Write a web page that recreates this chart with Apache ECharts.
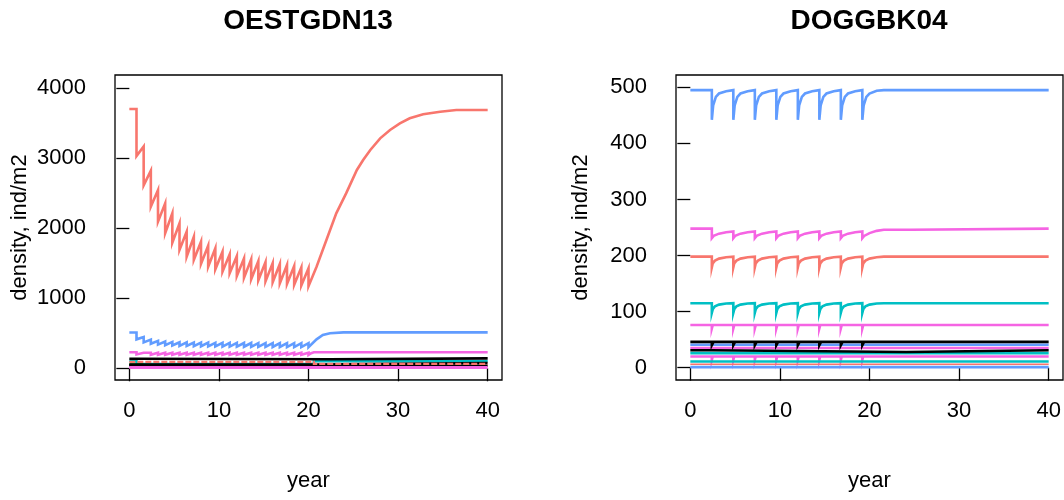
<!DOCTYPE html>
<html>
<head>
<meta charset="utf-8">
<script src="https://cdn.jsdelivr.net/npm/echarts@6/dist/echarts.min.js"></script>
<style>
  html, body { margin: 0; padding: 0; background: #ffffff; }
  #chart { width: 1064px; height: 500px; }
</style>
</head>
<body>
<div id="chart"></div>
<script>
// Panel titles and axis ticks
const panelTitles = ['OESTGDN13', 'DOGGBK04'];
const yearTicks = [0, 10, 20, 30, 40];
const oestTicks = [0, 1000, 2000, 3000, 4000];
const doggTicks = [0, 100, 200, 300, 400, 500];

// OESTGDN13: density (ind/m2) by year, one array per species line
const oestRed = [
  [0,3700],[0.8,3700],[0.8,3028],[1.6,3165],[1.6,2610],[2.4,2820],[2.4,2305],[3.2,2543],[3.2,2091],
  [4.0,2353],[4.0,1926],[4.8,2211],[4.8,1792],[5.6,2068],[5.6,1688],[6.4,1949],[6.4,1592],[7.2,1877],
  [7.2,1545],[8.0,1806],[8.0,1488],[8.8,1749],[8.8,1449],[9.6,1712],[9.6,1412],[10.4,1663],[10.4,1378],
  [11.2,1626],[11.2,1355],[12.0,1602],[12.0,1317],[12.8,1569],[12.8,1290],[13.6,1555],[13.6,1270],
  [14.4,1530],[14.4,1255],[15.2,1515],[15.2,1240],[16.0,1500],[16.0,1227],[16.8,1488],[16.8,1213],
  [17.6,1474],[17.6,1203],[18.4,1459],[18.4,1190],[19.2,1441],[19.2,1180],[20.0,1427],[20.0,1172],
  [20.9,1449],[22.0,1830],[23.1,2211],[24.2,2496],[25.4,2829],[26.1,2971],[26.9,3114],[28.0,3281],
  [29.1,3400],[30.2,3495],[31.3,3566],[32.8,3623],[34.7,3660],[36.5,3685],[40,3685]
];
const oestBlue = [
  [0,510],[0.8,510],[0.8,413],[1.6,446],[1.6,370],[2.4,410],[2.4,350],[3.2,392],[3.2,338],[4.0,382],
  [4.0,330],[4.8,376],[4.8,325],[5.6,372],[5.6,320],[6.4,369],[6.4,318],[7.2,367],[7.2,316],[8.0,366],
  [8.0,314],[8.8,365],[8.8,312],[9.6,364],[9.6,311],[10.4,363],[10.4,310],[11.2,362],[11.2,309],
  [12.0,362],[12.0,308],[12.8,361],[12.8,307],[13.6,361],[13.6,306],[14.4,360],[14.4,305],[15.2,360],
  [15.2,305],[16.0,360],[16.0,304],[16.8,359],[16.8,304],[17.6,359],[17.6,303],[18.4,359],[18.4,303],
  [19.2,358],[19.2,302],[20.0,358],[20.0,302],[20.9,413],[21.6,475],[22.4,499],[23.9,513],[40,513]
];
const oestMagenta = [
  [0,228],[0.8,228],[0.8,198],[1.6,222],[1.6,194],[2.4,222],[2.4,193],[3.2,222],[3.2,192],[4.0,222],
  [4.0,192],[4.8,222],[4.8,192],[5.6,222],[5.6,192],[6.4,222],[6.4,192],[7.2,222],[7.2,192],[8.0,222],
  [8.0,192],[8.8,222],[8.8,192],[9.6,222],[9.6,192],[10.4,222],[10.4,192],[11.2,222],[11.2,192],
  [12.0,222],[12.0,192],[12.8,222],[12.8,192],[13.6,222],[13.6,192],[14.4,222],[14.4,192],[15.2,222],
  [15.2,192],[16.0,222],[16.0,192],[16.8,222],[16.8,192],[17.6,222],[17.6,192],[18.4,222],[18.4,192],
  [19.2,222],[19.2,192],[20.0,222],[20.0,192],[20.3,215],[20.6,228],[40,228]
];
const oestBlackUpper = [[0,137],[0.8,137],[0.8,128],[22.4,128],[22.4,142],[40,142]];
const oestCyan = [[0,105],[0.8,105],[0.8,60],[20.6,60],[20.6,100],[40,100]];
const oestRedDashed = [[0,92],[20.6,92],[20.6,62],[40,62]];
const oestGreen = [[0,55],[1.6,55]];
const oestBlackMiddle = [[0,54],[20.6,54],[20.6,76],[40,76]];
const oestBlackLower = [[0,42],[20.6,42],[20.6,37],[40,37]];
const oestMagentaLow = [[0,12],[40,12]];

// DOGGBK04: density (ind/m2) by year
const doggBlue = [
  [0,495],[2.4,495],[2.4,442],[2.55,468],[2.85,483],[3.2,489],[4.0,493],[4.8,495],
  [4.8,442],[4.95,468],[5.25,483],[5.6,489],[6.4,493],[7.2,495],
  [7.2,442],[7.35,468],[7.65,483],[8.0,489],[8.8,493],[9.6,495],
  [9.6,442],[9.75,468],[10.05,483],[10.4,489],[11.2,493],[12.0,495],
  [12.0,442],[12.15,468],[12.45,483],[12.8,489],[13.6,493],[14.4,495],
  [14.4,442],[14.55,468],[14.85,483],[15.2,489],[16.0,493],[16.8,495],
  [16.8,442],[16.95,468],[17.25,483],[17.6,489],[18.4,493],[19.2,495],
  [19.2,442],[19.35,468],[19.65,483],[20.0,489],[20.8,494],[21.6,495],[40,495]
];
const doggMagentaTop = [
  [0,248],[2.4,248],[2.4,231],[2.6,235],[3.2,239],[4.0,241.5],[4.8,243],
  [4.8,231],[5.0,235],[5.6,239],[6.4,241.5],[7.2,243],
  [7.2,231],[7.4,235],[8.0,239],[8.8,241.5],[9.6,243],
  [9.6,231],[9.8,235],[10.4,239],[11.2,241.5],[12.0,243],
  [12.0,231],[12.2,235],[12.8,239],[13.6,241.5],[14.4,243],
  [14.4,231],[14.6,235],[15.2,239],[16.0,241.5],[16.8,243],
  [16.8,231],[17.0,235],[17.6,239],[18.4,241.5],[19.2,243],
  [19.2,231],[19.4,235],[20.0,240],[20.8,244],[21.6,246],[24.6,246],[24.6,248],[40,248]
];
const doggRed = [
  [0,198],[2.4,198],[2.4,179],[2.5,186],[2.75,191],[3.2,194.5],[4.0,197],[4.8,198],
  [4.8,179],[4.9,186],[5.15,191],[5.6,194.5],[6.4,197],[7.2,198],
  [7.2,179],[7.3,186],[7.55,191],[8.0,194.5],[8.8,197],[9.6,198],
  [9.6,179],[9.7,186],[9.95,191],[10.4,194.5],[11.2,197],[12.0,198],
  [12.0,179],[12.1,186],[12.35,191],[12.8,194.5],[13.6,197],[14.4,198],
  [14.4,179],[14.5,186],[14.75,191],[15.2,194.5],[16.0,197],[16.8,198],
  [16.8,179],[16.9,186],[17.15,191],[17.6,194.5],[18.4,197],[19.2,198],
  [19.2,179],[19.3,186],[19.55,191],[20.0,194.5],[20.8,197],[21.6,198],[40,198]
];
const doggCyan = [
  [0,115],[2.4,115],[2.4,98],[2.5,104],[2.75,109.5],[3.2,112.5],[4.0,114.5],[4.8,115],
  [4.8,98],[4.9,104],[5.15,109.5],[5.6,112.5],[6.4,114.5],[7.2,115],
  [7.2,98],[7.3,104],[7.55,109.5],[8.0,112.5],[8.8,114.5],[9.6,115],
  [9.6,98],[9.7,104],[9.95,109.5],[10.4,112.5],[11.2,114.5],[12.0,115],
  [12.0,98],[12.1,104],[12.35,109.5],[12.8,112.5],[13.6,114.5],[14.4,115],
  [14.4,98],[14.5,104],[14.75,109.5],[15.2,112.5],[16.0,114.5],[16.8,115],
  [16.8,98],[16.9,104],[17.15,109.5],[17.6,112.5],[18.4,114.5],[19.2,115],
  [19.2,98],[19.3,104],[19.55,109.5],[20.0,112.5],[20.8,114.5],[21.6,115],[40,115]
];
const doggMagentaMid = [
  [0,76],[2.4,76],[2.4,70],[2.5,70],[2.5,76],[4.8,76],[4.8,70],[4.9,70],[4.9,76],
  [7.2,76],[7.2,70],[7.3,70],[7.3,76],[9.6,76],[9.6,70],[9.7,70],[9.7,76],
  [12.0,76],[12.0,70],[12.1,70],[12.1,76],[14.4,76],[14.4,70],[14.5,70],[14.5,76],
  [16.8,76],[16.8,70],[16.9,70],[16.9,76],[19.2,76],[19.2,70],[19.3,70],[19.3,76],[40,76]
];
const doggBlueLow = [[0,41],[40,41]];
const doggMagentaLow = [[0,35],[40,35]];
const doggBlack = [
  [0,46],[2.4,46],[2.4,40],[2.6,40],[2.6,46],[4.8,46],[4.8,40],[5.0,40],[5.0,46],
  [7.2,46],[7.2,40],[7.4,40],[7.4,46],[9.6,46],[9.6,40],[9.8,40],[9.8,46],
  [12.0,46],[12.0,40],[12.2,40],[12.2,46],[14.4,46],[14.4,40],[14.6,40],[14.6,46],
  [16.8,46],[16.8,40],[17.0,40],[17.0,46],[19.2,46],[19.2,40],[19.4,40],[19.4,46],[40,46]
];
const doggCyanLow = [[0,26],[40,26]];
const doggBlackLow = [[0,31],[2.4,31],[2.4,28],[24.1,28],[24.1,31],[40,31]];
const doggPinkLow = [
  [0,20],[2.4,20],[2.4,14],[2.5,14],[2.5,20],[4.8,20],[4.8,14],[4.9,14],[4.9,20],
  [7.2,20],[7.2,14],[7.3,14],[7.3,20],[9.6,20],[9.6,14],[9.7,14],[9.7,20],
  [12.0,20],[12.0,14],[12.1,14],[12.1,20],[14.4,20],[14.4,14],[14.5,14],[14.5,20],
  [16.8,20],[16.8,14],[16.9,14],[16.9,20],[19.2,20],[19.2,14],[19.3,14],[19.3,20],[40,20]
];
const doggCyanBottom = [[0,11],[40,11]];
const doggRedBottom = [[0,6],[40,6]];
const doggBlueBottom = [[0,1],[40,1]];

const COLORS = {
  red: '#F8766D', blue: '#619CFF', magenta: '#F564E3',
  cyan: '#00BFC4', black: '#000000', green: '#00BA38'
};
const FONT = '"Liberation Sans", Arial, Helvetica, sans-serif';
const LW = 2.6;

function line(panel, data, color, opts) {
  opts = opts || {};
  return {
    type: 'line',
    xAxisIndex: panel, yAxisIndex: panel,
    data: data,
    showSymbol: false, symbol: 'none',
    animation: false, silent: true,
    lineStyle: { color: color, width: opts.width || LW, type: opts.type || 'solid', cap: 'butt', join: 'miter' },
    z: 2
  };
}

const plainNumber = v => String(v);

function xAxisFor(panel) {
  return {
    type: 'value', gridIndex: panel, min: -1.6, max: 41.6,
    name: 'year', nameLocation: 'middle', nameGap: 90,
    nameTextStyle: { fontFamily: FONT, fontSize: 22, color: '#000' },
    axisLine: { show: false },
    splitLine: { show: false },
    axisTick: { show: true, inside: false, length: 13, customValues: yearTicks,
                lineStyle: { color: '#000', width: 1.3 } },
    axisLabel: { show: true, margin: 20, customValues: yearTicks, formatter: plainNumber,
                 fontFamily: FONT, fontSize: 22, color: '#000' }
  };
}

function yAxisFor(panel, lo, hi, ticks) {
  return {
    type: 'value', gridIndex: panel, min: lo, max: hi,
    name: 'density, ind/m2', nameLocation: 'middle', nameGap: 84, nameRotate: 90,
    nameTextStyle: { fontFamily: FONT, fontSize: 22, color: '#000' },
    axisLine: { show: false },
    splitLine: { show: false },
    axisTick: { show: true, inside: false, length: 13, customValues: ticks,
                lineStyle: { color: '#000', width: 1.3 } },
    axisLabel: { show: true, margin: 29, customValues: ticks, formatter: plainNumber,
                 fontFamily: FONT, fontSize: 22, color: '#000' }
  };
}

const titleStyle = { fontFamily: FONT, fontSize: 28, fontWeight: 'bold', color: '#000' };

const chart = echarts.init(document.getElementById('chart'), null, { renderer: 'canvas' });
chart.setOption({
  backgroundColor: '#ffffff',
  animation: false,
  title: [
    { text: panelTitles[0], left: 308, top: 7, padding: 0, textAlign: 'center', textStyle: titleStyle },
    { text: panelTitles[1], left: 869, top: 7, padding: 0, textAlign: 'center', textStyle: titleStyle }
  ],
  grid: [
    { left: 115, top: 75, width: 387, height: 305, show: true,
      borderColor: '#000', borderWidth: 1.3, backgroundColor: 'transparent', containLabel: false },
    { left: 676, top: 75, width: 387, height: 305, show: true,
      borderColor: '#000', borderWidth: 1.3, backgroundColor: 'transparent', containLabel: false }
  ],
  xAxis: [xAxisFor(0), xAxisFor(1)],
  yAxis: [yAxisFor(0, -167, 4184, oestTicks), yAxisFor(1, -22, 522, doggTicks)],
  series: [
    line(0, oestRed, COLORS.red),
    line(0, oestBlue, COLORS.blue),
    line(0, oestMagenta, COLORS.magenta),
    line(0, oestCyan, COLORS.cyan),
    line(0, oestGreen, COLORS.green),
    line(0, oestBlackUpper, COLORS.black),
    line(0, oestBlackLower, COLORS.black),
    line(0, oestBlackMiddle, COLORS.black),
    line(0, oestRedDashed, COLORS.red, { type: [6, 2], width: 2.2 }),
    line(0, oestMagentaLow, COLORS.magenta, { width: 3 }),

    line(1, doggBlue, COLORS.blue),
    line(1, doggMagentaTop, COLORS.magenta),
    line(1, doggRed, COLORS.red),
    line(1, doggCyan, COLORS.cyan),
    line(1, doggMagentaMid, COLORS.magenta),
    line(1, doggBlueLow, COLORS.blue),
    line(1, doggMagentaLow, COLORS.magenta),
    line(1, doggBlack, COLORS.black),
    line(1, doggCyanLow, COLORS.cyan),
    line(1, doggBlackLow, COLORS.black),
    line(1, doggPinkLow, COLORS.magenta),
    line(1, doggCyanBottom, COLORS.cyan),
    line(1, doggRedBottom, COLORS.red, { width: 1.5 }),
    line(1, doggBlueBottom, COLORS.blue)
  ]
});
</script>
</body>
</html>
